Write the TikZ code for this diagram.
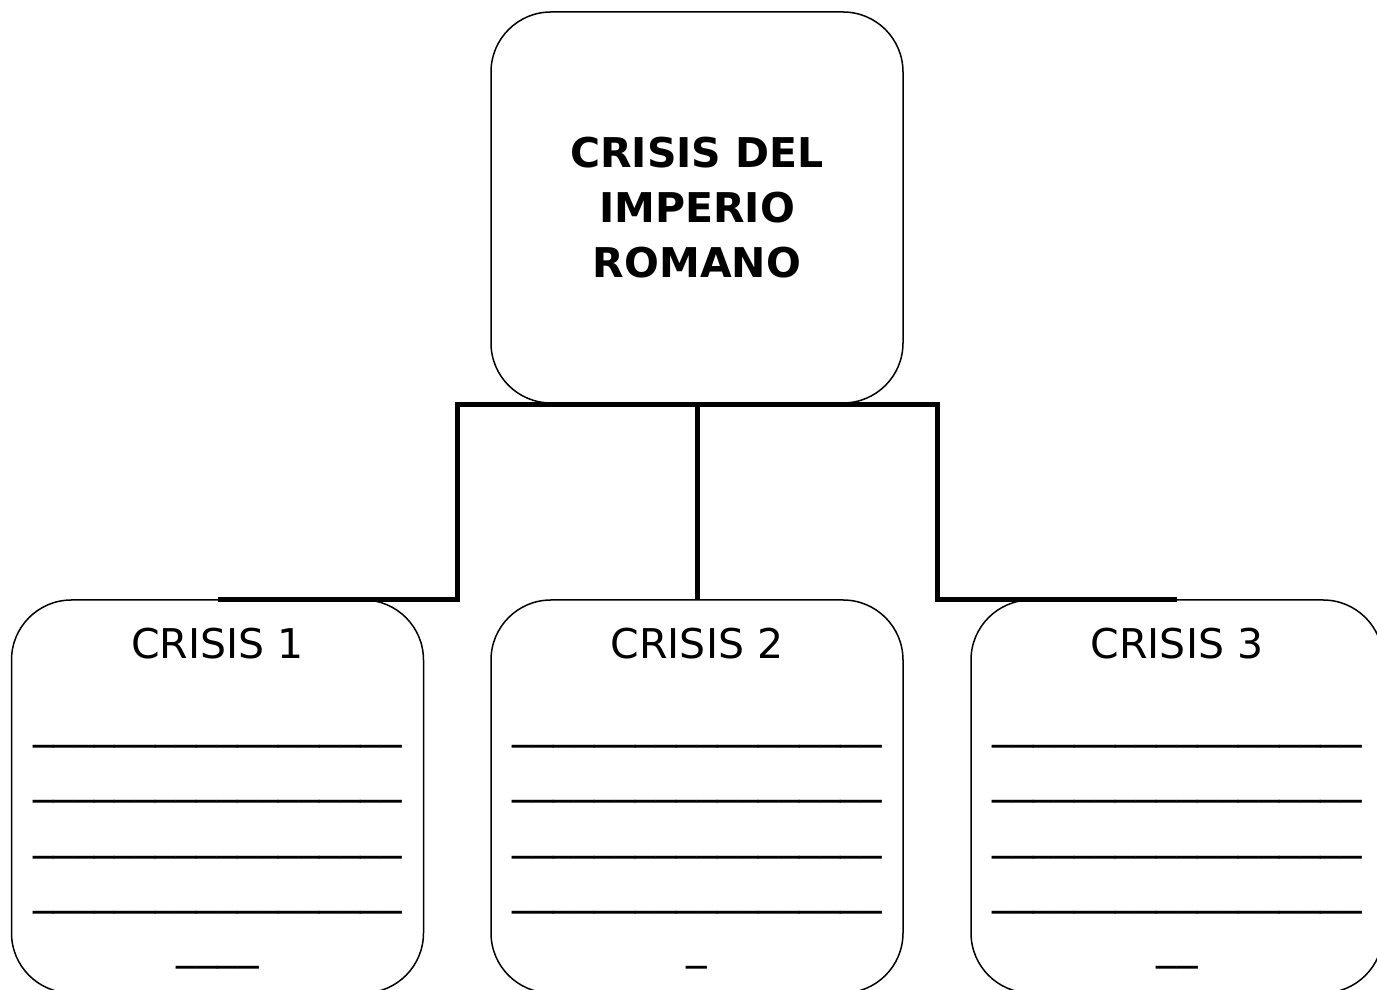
\documentclass[tikz,border=0pt]{standalone}
\usepackage{fontspec}
\setmainfont{DejaVu Sans}
\usepackage{tikz}

\newcommand{\rayas}{\_\_\_\_\_\_\_\_\_\_\_\_\_\_\_\_\_\_}
\tikzset{
  caja/.style={draw, line width=1.5pt, rounded corners=60pt,
    minimum width=412pt, inner sep=0pt},
  letra/.style={font=\fontsize{41}{55}\selectfont, inner sep=0pt},
  enlace/.style={line width=5pt},
}

\begin{document}
\begin{tikzpicture}[x=1pt,y=1pt]
  \useasboundingbox (0,0) rectangle (1377,990);
  % cajas
  \node[caja, minimum height=391pt] (top) at (697,782.5) {};
  \node[caja, minimum height=393pt] (c1) at (217.5,193.5) {};
  \node[caja, minimum height=393pt] (c2) at (697,193.5) {};
  \node[caja, minimum height=393pt] (c3) at (1177,193.5) {};
  \node[letra, align=center, font=\fontsize{41}{55}\selectfont\bfseries] (titulo) at (top.center)
    {CRISIS DEL\\IMPERIO\\ROMANO};
  % textos de las crisis
  \foreach \b/\n/\ult in {c1/1/{\_\_\_\_}, c2/2/{\_}, c3/3/{\_\_}} {
    \node[letra, anchor=base] (\b-t) at ([yshift=-59pt]\b.north) {CRISIS \n};
    \foreach \y in {139,194,250,305}
      \node[letra, anchor=base] at ([yshift=-\y pt]\b.north) {\rayas};
    \node[letra, anchor=base] (\b-u) at ([yshift=-360pt]\b.north) {\ult};
  }
  % conectores
  \coordinate (codoi) at (457,585);
  \coordinate (codod) at (937,585);
  \draw[enlace] (c1.north) -| (codoi) -- (codod) |- (c3.north);
  \draw[enlace] (top.south |- codoi) -- (c2.north);
\end{tikzpicture}
\end{document}
